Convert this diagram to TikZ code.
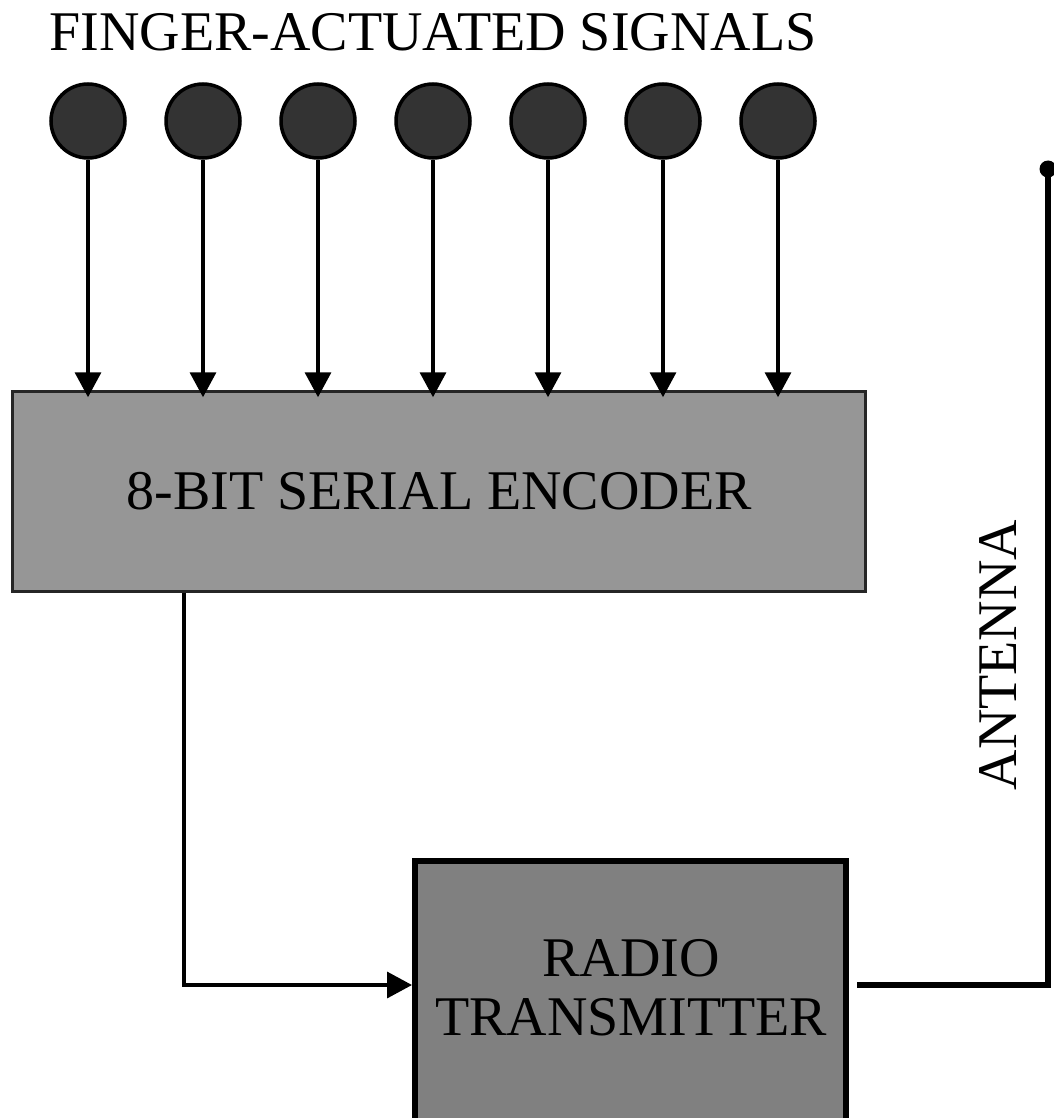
\documentclass[tikz,border=0pt]{standalone}
\usepackage{fontspec}
\setmainfont{Liberation Serif}
\usetikzlibrary{arrows.meta}
\definecolor{knob}{HTML}{333333}
\definecolor{encfill}{HTML}{969696}
\definecolor{txfill}{HTML}{808080}
\begin{document}
\begin{tikzpicture}[x=1pt,y=-1pt,
  knobst/.style={circle,draw,line width=3.5pt,fill=knob,minimum size=74pt,inner sep=0pt},
  sig/.style={line width=3.5pt,-{Triangle[width=26pt,length=25pt]}},
  lbl/.style={font=\fontsize{56}{59}\selectfont,inner sep=0pt,align=center},
  encst/.style={draw=black!85,line width=2.5pt,fill=encfill,minimum width=853pt,minimum height=200pt,inner sep=0pt,font=\fontsize{56}{59}\selectfont},
  txst/.style={draw,line width=6pt,fill=txfill,minimum width=431pt,minimum height=270pt,inner sep=0pt}]
\useasboundingbox (0,0) rectangle (1053,1118);
\node[lbl] (title) at (433,32) {FINGER-ACTUATED SIGNALS};
\node[encst] (enc) at (439,491.5) {8-BIT SERIAL ENCODER};
\foreach \i in {0,...,6}{
  \node[knobst] (k\i) at (88+115*\i,121) {};
  \draw[sig,shorten >=-7pt] (k\i) -- (k\i |- enc.north);
}
\node[txst] (tx) at (630.5,996) {};
\node[lbl] (txt) at (631,988) {RADIO\\TRANSMITTER};
\coordinate (bend) at (184,985);
\coordinate (anttop) at (1048,169);
\draw[sig] (enc.south -| bend) -- (bend) -- (tx.west |- bend);
\draw[line width=6.5pt] ([xshift=8pt]tx.east |- bend) -- (bend -| anttop) -- (anttop);
\fill (anttop) circle (8.5pt);
\node[lbl,rotate=90] (ant) at (998,655) {ANTENNA};
\end{tikzpicture}
\end{document}
